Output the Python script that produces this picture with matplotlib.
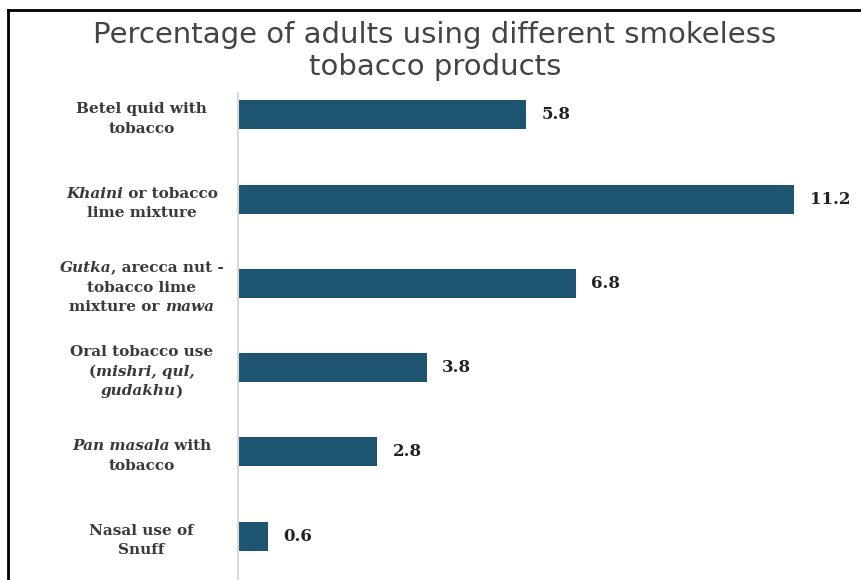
import matplotlib
matplotlib.use("Agg")
import matplotlib.pyplot as plt
from matplotlib.offsetbox import TextArea, HPacker, VPacker, AnnotationBbox
from matplotlib.lines import Line2D

# product labels, *...* marks the italic words
products = [
    "Betel quid with\ntobacco",
    "*Khaini* or tobacco\nlime mixture",
    "*Gutka*, arecca nut -\ntobacco lime\nmixture or *mawa*",
    "Oral tobacco use\n(*mishri, qul,\ngudakhu*)",
    "*Pan masala* with\ntobacco",
    "Nasal use of\nSnuff",
]
percent = [5.8, 11.2, 6.8, 3.8, 2.8, 0.6]

bar_color = "#1d5570"
label_color = "#3a3a3a"

fig = plt.figure(figsize=(8.62, 5.8), dpi=100)
ax = fig.add_axes([238 / 862, 0, 621 / 862, 1 - 93 / 580])

ypos = list(range(len(products)))
ax.barh(ypos, percent, height=0.345, color=bar_color)
ax.set_xlim(0, 12.5)
ax.set_ylim(5.52, -0.26)

for y, v in zip(ypos, percent):
    ax.annotate(f"{v:.1f}", (v, y), xytext=(11, 0), textcoords="offset points",
                ha="left", va="center", fontsize=12, fontweight="bold",
                family="DejaVu Serif", color="#222222")


def make_label(text):
    # italic state carries over line breaks
    italic = False
    lines = []
    for line in text.split("\n"):
        boxes = []
        for i, p in enumerate(line.split("*")):
            if i > 0:
                italic = not italic
            if not p:
                continue
            boxes.append(TextArea(p, textprops=dict(fontsize=11, fontweight="bold",
                                                     fontstyle="italic" if italic else "normal",
                                                     family="DejaVu Serif",
                                                     color=label_color)))
        lines.append(HPacker(children=boxes, align="baseline", pad=0, sep=0))
    return VPacker(children=lines, align="center", pad=0, sep=4)


for y, name in zip(ypos, products):
    ab = AnnotationBbox(make_label(name), (-0.155, y), xycoords=ax.get_yaxis_transform(),
                        xybox=(0, -3), boxcoords="offset points",
                        box_alignment=(0.5, 0.5), frameon=False, annotation_clip=False)
    ax.add_artist(ab)

ax.set_xticks([])
ax.set_yticks([])
for s in ["top", "right", "bottom"]:
    ax.spines[s].set_visible(False)
ax.spines["left"].set_color("#d9d9d9")
ax.spines["left"].set_linewidth(1.5)

fig.text(435 / 862, 1 - 51 / 580,
         "Percentage of adults using different smokeless\ntobacco products",
         ha="center", va="center", fontsize=21, color="#444444",
         family="DejaVu Sans", linespacing=1.15)

# frame lines along the top and left edges
fig.add_artist(Line2D([8 / 862, 1], [1 - 10 / 580, 1 - 10 / 580], color="black", lw=2))
fig.add_artist(Line2D([8 / 862, 8 / 862], [0, 1 - 10 / 580], color="black", lw=2))

fig.savefig("out.png", dpi=100)
